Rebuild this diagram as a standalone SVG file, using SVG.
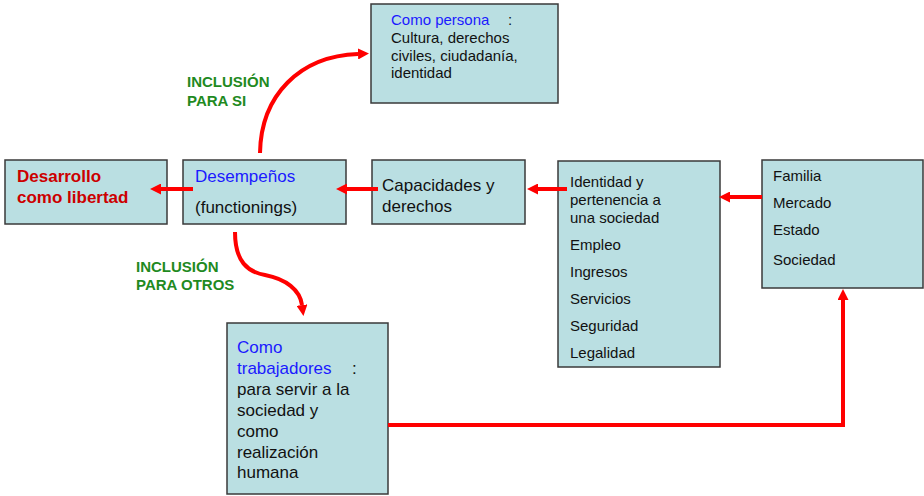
<svg xmlns="http://www.w3.org/2000/svg" width="924" height="496" viewBox="0 0 924 496">
<defs>
<style>
.box{fill:#badfe2;stroke:#3a3a3a;stroke-width:1.5}
text{font-family:"Liberation Sans",Arial,sans-serif;fill:#111}
.t15{font-size:15px}
.t17{font-size:17px}
.blue{fill:#1a1aff}
.red{fill:#cc0000;font-weight:bold}
.green{fill:#1f8a1f;font-weight:bold;font-size:15px}
.conn{fill:none;stroke:#ff0000;stroke-width:4}
</style>
<marker id="ah" viewBox="0 0 10 10" refX="0" refY="5" markerWidth="11" markerHeight="11" markerUnits="userSpaceOnUse" orient="auto">
<path d="M0,0 L10,5 L0,10 Z" fill="#ff0000"/>
</marker>
</defs>
<rect width="924" height="496" fill="#ffffff"/>

<g id="label-para-si">
<text class="green" x="187" y="87">INCLUSIÓN</text>
<text class="green" x="187" y="106">PARA SI</text>
</g>
<g id="label-para-otros">
<text class="green" x="136" y="272">INCLUSIÓN</text>
<text class="green" x="136" y="290">PARA OTROS</text>
</g>

<g id="desarrollo">
<rect class="box" x="5" y="160" width="162" height="64"/>
<text class="t17 red" x="17" y="182">Desarrollo</text>
<text class="t17 red" x="17" y="203">como libertad</text>
</g>

<g id="desempenos">
<rect class="box" x="183" y="160" width="163" height="64"/>
<text class="t17 blue" x="195" y="182">Desempeños</text>
<text class="t17" x="195" y="213">(functionings)</text>
</g>

<g id="capacidades">
<rect class="box" x="372" y="160" width="153" height="64"/>
<text class="t17" x="382" y="191">Capacidades y</text>
<text class="t17" x="382" y="212">derechos</text>
</g>

<g id="como-persona">
<rect class="box" x="371" y="4" width="187" height="99"/>
<text class="t15 blue" x="391" y="25">Como persona</text>
<text class="t15" x="508" y="25">:</text>
<text class="t15" x="391" y="43">Cultura, derechos</text>
<text class="t15" x="391" y="61">civiles, ciudadanía,</text>
<text class="t15" x="391" y="78">identidad</text>
</g>

<g id="identidad">
<rect class="box" x="558" y="161" width="162" height="206"/>
<text class="t15" x="570" y="187">Identidad y</text>
<text class="t15" x="570" y="205">pertenencia a</text>
<text class="t15" x="570" y="223">una sociedad</text>
<text class="t15" x="570" y="250">Empleo</text>
<text class="t15" x="570" y="277">Ingresos</text>
<text class="t15" x="570" y="304">Servicios</text>
<text class="t15" x="570" y="331">Seguridad</text>
<text class="t15" x="570" y="358">Legalidad</text>
</g>

<g id="familia">
<rect class="box" x="762" y="160" width="161" height="128"/>
<text class="t15" x="773" y="181">Familia</text>
<text class="t15" x="773" y="208">Mercado</text>
<text class="t15" x="773" y="235">Estado</text>
<text class="t15" x="773" y="265">Sociedad</text>
</g>

<g id="como-trabajadores">
<rect class="box" x="227" y="323" width="161" height="171"/>
<text class="t17 blue" x="237" y="353">Como</text>
<text class="t17 blue" x="237" y="374">trabajadores</text>
<text class="t17" x="352" y="374">:</text>
<text class="t17" x="237" y="395">para servir a la</text>
<text class="t17" x="237" y="416">sociedad y</text>
<text class="t17" x="237" y="437">como</text>
<text class="t17" x="237" y="458">realización</text>
<text class="t17" x="237" y="478">humana</text>
</g>

<g id="connectors">
<path class="conn" marker-end="url(#ah)" d="M193,189 H161"/>
<path class="conn" marker-end="url(#ah)" d="M378,189 H347"/>
<path class="conn" marker-end="url(#ah)" d="M567,189 H538"/>
<path class="conn" marker-end="url(#ah)" d="M762,197 H730"/>
<path class="conn" marker-end="url(#ah)" d="M388,425 H843 V300"/>
<path class="conn" marker-end="url(#ah)" d="M260,153 C261,95 300,56 358,54"/>
<path class="conn" marker-end="url(#ah)" d="M235,232 C235,262 248,272 265,275 C286,279 300,290 302,305"/>
</g>
</svg>
